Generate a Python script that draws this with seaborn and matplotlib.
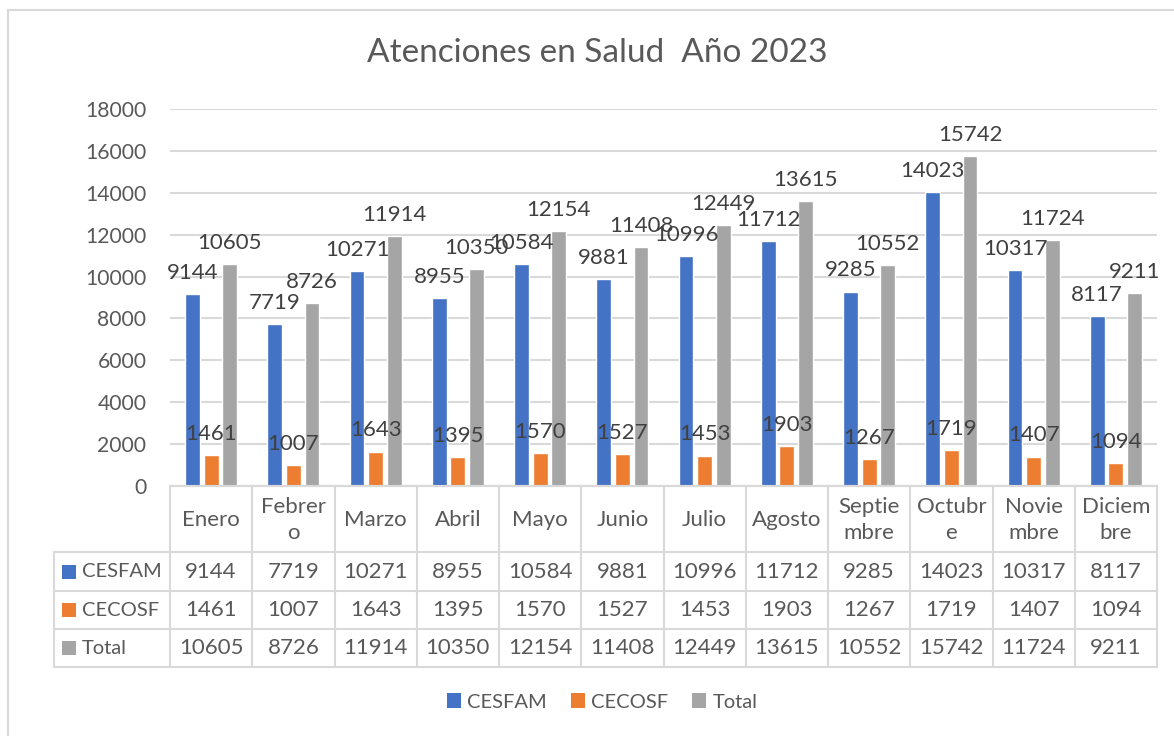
import matplotlib
matplotlib.use("Agg")
import matplotlib.pyplot as plt
from matplotlib.patches import Rectangle, Patch
import seaborn as sns
import pandas as pd

months = ["Enero", "Febrero", "Marzo", "Abril", "Mayo", "Junio", "Julio",
          "Agosto", "Septiembre", "Octubre", "Noviembre", "Diciembre"]
month_labels = ["Enero", "Febrer\no", "Marzo", "Abril", "Mayo", "Junio", "Julio",
                "Agosto", "Septie\nmbre", "Octubr\ne", "Novie\nmbre", "Diciem\nbre"]
series_names = ["CESFAM", "CECOSF", "Total"]
cesfam = [9144, 7719, 10271, 8955, 10584, 9881, 10996, 11712, 9285, 14023, 10317, 8117]
cecosf = [1461, 1007, 1643, 1395, 1570, 1527, 1453, 1903, 1267, 1719, 1407, 1094]
total = [10605, 8726, 11914, 10350, 12154, 11408, 12449, 13615, 10552, 15742, 11724, 9211]
colors = ["#4472C4", "#ED7D31", "#A5A5A5"]
yticks = list(range(0, 18001, 2000))
title = "Atenciones en Salud  Año 2023"

sns.set_style("white")
plt.rcParams["font.family"] = ["Lato", "DejaVu Sans"]

FS = 16
FS_LAB = 14.5
W, H = 1174, 736
fig = plt.figure(figsize=(W / 100, H / 100), dpi=100)

def fx(px):
    return px / W

def fy(py):
    return 1 - py / H

# chart border
fig.add_artist(Rectangle((fx(8), fy(745)), fx(1180 - 8), fy(10) - fy(745),
                         transform=fig.transFigure, fill=False,
                         edgecolor="#d9d9d9", linewidth=1.5))

ax_l, ax_r, ax_t, ax_b = 170, 1157, 109, 486
ax = fig.add_axes([fx(ax_l), fy(ax_b), fx(ax_r - ax_l), fy(ax_t) - fy(ax_b)])

all_vals = [cesfam, cecosf, total]
df = pd.DataFrame({
    "Mes": months * 3,
    "Serie": [s for s in series_names for _ in months],
    "Valor": cesfam + cecosf + total,
})
sns.barplot(data=df, x="Mes", y="Valor", hue="Serie", order=months,
            hue_order=series_names, palette=colors, width=0.68, gap=0.2,
            saturation=1, ax=ax, legend=False)

for cont, vals in zip(ax.containers, all_vals):
    ax.bar_label(cont, labels=[str(v) for v in vals], padding=8,
                 fontsize=FS, color="#404040")

ax.set_xlim(-0.5, 11.5)
ax.set_ylim(0, 18000)
ax.set_yticks(yticks)
ax.set_yticklabels([str(t) for t in yticks], fontsize=15.2, color="#595959")
ax.tick_params(axis="y", length=0, pad=17)
ax.set_xticks([])
ax.set_xlabel("")
ax.set_ylabel("")
ax.yaxis.grid(True, color="#d9d9d9", linewidth=1.5)
ax.set_axisbelow(True)
for s in ["left", "right", "top"]:
    ax.spines[s].set_visible(False)
ax.spines["bottom"].set_color("#d9d9d9")
ax.spines["bottom"].set_linewidth(1.5)

# data table
tl, tr, tt, tb = 54, 1157, 486, 667
tax = fig.add_axes([fx(tl), fy(tb), fx(tr - tl), fy(tt) - fy(tb)])
tax.set_xlim(tl, tr)
tax.set_ylim(tb, tt)
tax.axis("off")
colw = (ax_r - ax_l) / 12
row_y = [486, 552, 591, 629, 667]
lc = "#d9d9d9"
lw = 1.5
tax.plot([ax_l, ax_r], [row_y[0], row_y[0]], color=lc, lw=lw, clip_on=False)
for yy in row_y[1:]:
    tax.plot([tl, ax_r], [yy, yy], color=lc, lw=lw, clip_on=False)
tax.plot([tl, tl], [row_y[1], row_y[-1]], color=lc, lw=lw, clip_on=False)
for i in range(13):
    xx = ax_l + i * colw
    tax.plot([xx, xx], [row_y[0], row_y[-1]], color=lc, lw=lw, clip_on=False)
for i, lab in enumerate(month_labels):
    cx = ax_l + (i + 0.5) * colw
    tax.text(cx, (row_y[0] + row_y[1]) / 2 + 1, lab, ha="center", va="center",
             fontsize=FS, color="#595959", linespacing=1.35)
for r, (name, vals, col) in enumerate(zip(series_names, all_vals, colors)):
    cy = (row_y[r + 1] + row_y[r + 2]) / 2
    tax.add_patch(Rectangle((62, cy - 7), 14, 14, facecolor=col, edgecolor="none"))
    tax.text(82, cy, name, ha="left", va="center", fontsize=FS_LAB, color="#595959")
    for i, v in enumerate(vals):
        cx = ax_l + (i + 0.5) * colw
        tax.text(cx, cy, str(v), ha="center", va="center", fontsize=FS,
                 color="#595959")

# title
fig.text(fx(597), fy(53), title, ha="center", va="center", fontsize=24,
         color="#595959")

# legend
handles = [Patch(facecolor=c, edgecolor="none", label=n) for c, n in zip(colors, series_names)]
fig.legend(handles=handles, loc="center", bbox_to_anchor=(fx(602), fy(702)),
           ncol=3, frameon=False, fontsize=FS_LAB, handlelength=0.7,
           handleheight=0.7, handletextpad=0.3, columnspacing=1.2,
           labelcolor="#595959")

fig.savefig("out.png", dpi=100)
